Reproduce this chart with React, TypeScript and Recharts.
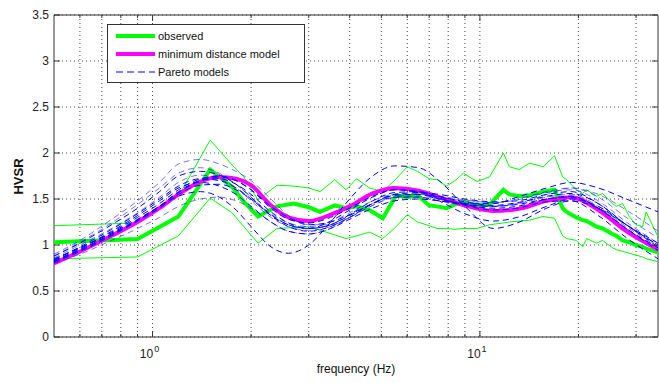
import { ComposedChart, Line, XAxis, YAxis, CartesianGrid, ReferenceArea, Legend } from 'recharts';

// plot box inside the 659x383 chart
const PLOT_LEFT = 54;
const PLOT_RIGHT = 658;
const PLOT_TOP = 15;
const PLOT_BOTTOM = 337;
const CHART_W = 659;
const CHART_H = 383;
const FONT = '"Liberation Sans", Arial, Helvetica, sans-serif';

// observed HVSR (mean and +/- one std) on its own frequency samples
const OBS_FREQ = [0.5, 0.9, 1.2, 1.5, 1.75, 1.9, 2.1, 2.4, 2.7, 3.0, 3.25, 3.6, 3.9, 4.2, 4.6, 5.05, 5.55, 6.0, 6.45, 7.0, 7.4, 7.9, 8.4, 8.9, 9.8, 10.7, 11.8, 12.3, 13.2, 14.2, 15.6, 16.9, 17.9, 18.4, 19.7, 20.6, 21.2, 22.7, 23.7, 25.4, 26.1, 27.3, 28.6, 30.0, 31.4, 32.2, 35];
const OBS_MEAN = [1.03, 1.065, 1.31, 1.82, 1.63, 1.47, 1.31, 1.42, 1.45, 1.41, 1.36, 1.43, 1.40, 1.42, 1.38, 1.29, 1.54, 1.52, 1.54, 1.43, 1.42, 1.40, 1.44, 1.47, 1.43, 1.44, 1.60, 1.55, 1.53, 1.54, 1.58, 1.60, 1.40, 1.36, 1.30, 1.27, 1.26, 1.20, 1.18, 1.12, 1.10, 1.05, 1.03, 1.00, 0.98, 0.96, 0.92];
const OBS_HI = [1.21, 1.24, 1.53, 2.14, 1.87, 1.74, 1.49, 1.65, 1.64, 1.62, 1.58, 1.71, 1.60, 1.72, 1.62, 1.58, 1.72, 1.85, 1.80, 1.72, 1.71, 1.64, 1.70, 1.78, 1.69, 1.74, 2.00, 1.85, 1.82, 1.89, 1.85, 1.97, 1.74, 1.71, 1.60, 1.56, 1.60, 1.53, 1.56, 1.45, 1.42, 1.45, 1.31, 1.22, 1.20, 1.36, 1.09];
const OBS_LO = [0.85, 0.87, 1.10, 1.51, 1.35, 1.20, 1.02, 1.18, 1.19, 1.20, 1.16, 1.11, 1.07, 1.10, 1.14, 1.07, 1.20, 1.33, 1.25, 1.21, 1.18, 1.18, 1.17, 1.18, 1.18, 1.22, 1.24, 1.25, 1.26, 1.27, 1.31, 1.29, 1.10, 1.07, 1.05, 0.98, 1.07, 1.02, 1.05, 0.97, 0.95, 0.93, 0.91, 0.89, 0.87, 0.85, 0.82];

// forward-model curves share one frequency grid
const MODEL_FREQ = [0.5, 0.6, 0.75, 0.9, 1.05, 1.2, 1.4, 1.6, 1.8, 2.0, 2.3, 2.6, 3.0, 3.5, 4.0, 4.7, 5.5, 6.5, 7.5, 9, 11, 13, 16, 19, 23, 28, 35];
const BEST_MODEL = [0.80, 0.93, 1.10, 1.25, 1.40, 1.55, 1.69, 1.74, 1.72, 1.65, 1.43, 1.30, 1.26, 1.33, 1.42, 1.56, 1.62, 1.59, 1.52, 1.43, 1.37, 1.39, 1.48, 1.52, 1.38, 1.15, 0.95];

const PARETO_01 = [0.82, 0.95, 1.12, 1.27, 1.42, 1.57, 1.70, 1.74, 1.70, 1.60, 1.40, 1.28, 1.24, 1.30, 1.40, 1.53, 1.60, 1.58, 1.51, 1.44, 1.40, 1.42, 1.50, 1.53, 1.40, 1.18, 0.97];
const PARETO_02 = [0.90, 1.05, 1.28, 1.48, 1.68, 1.88, 1.93, 1.88, 1.80, 1.70, 1.50, 1.32, 1.22, 1.22, 1.30, 1.43, 1.52, 1.53, 1.50, 1.45, 1.42, 1.45, 1.55, 1.62, 1.55, 1.38, 1.15];
const PARETO_03 = [0.85, 0.97, 1.13, 1.28, 1.42, 1.53, 1.58, 1.52, 1.38, 1.20, 0.98, 0.91, 1.00, 1.25, 1.50, 1.75, 1.86, 1.84, 1.70, 1.42, 1.18, 1.24, 1.40, 1.48, 1.40, 1.22, 1.02];
const PARETO_04 = [0.84, 0.97, 1.14, 1.30, 1.45, 1.60, 1.72, 1.75, 1.70, 1.60, 1.42, 1.30, 1.22, 1.25, 1.33, 1.45, 1.52, 1.52, 1.48, 1.45, 1.45, 1.52, 1.62, 1.68, 1.62, 1.50, 1.36];
const PARETO_05 = [0.80, 0.90, 1.05, 1.18, 1.30, 1.42, 1.50, 1.52, 1.48, 1.40, 1.25, 1.15, 1.12, 1.18, 1.30, 1.45, 1.55, 1.56, 1.52, 1.46, 1.42, 1.45, 1.52, 1.55, 1.42, 1.20, 0.98];
const PARETO_06 = [0.88, 1.02, 1.22, 1.40, 1.58, 1.75, 1.80, 1.76, 1.66, 1.52, 1.32, 1.20, 1.15, 1.20, 1.30, 1.45, 1.55, 1.57, 1.55, 1.50, 1.47, 1.48, 1.55, 1.58, 1.45, 1.22, 1.00];
const PARETO_07 = [0.83, 0.96, 1.15, 1.32, 1.48, 1.62, 1.68, 1.64, 1.55, 1.42, 1.25, 1.15, 1.12, 1.18, 1.28, 1.40, 1.48, 1.50, 1.48, 1.44, 1.42, 1.44, 1.50, 1.52, 1.40, 1.18, 0.94];
const PARETO_08 = [0.86, 1.00, 1.18, 1.35, 1.52, 1.68, 1.76, 1.72, 1.62, 1.48, 1.30, 1.20, 1.16, 1.20, 1.30, 1.43, 1.52, 1.55, 1.53, 1.49, 1.46, 1.49, 1.57, 1.60, 1.48, 1.25, 1.02];
const PARETO_09 = [0.81, 0.93, 1.10, 1.26, 1.40, 1.55, 1.65, 1.66, 1.60, 1.50, 1.32, 1.22, 1.18, 1.22, 1.32, 1.45, 1.54, 1.55, 1.50, 1.43, 1.38, 1.40, 1.47, 1.48, 1.32, 1.08, 0.85];
const PARETO_10 = [0.84, 0.98, 1.17, 1.34, 1.50, 1.64, 1.72, 1.70, 1.62, 1.50, 1.33, 1.22, 1.18, 1.26, 1.38, 1.52, 1.60, 1.58, 1.48, 1.34, 1.26, 1.30, 1.42, 1.50, 1.42, 1.22, 1.00];
const PARETO_11 = [0.88, 1.03, 1.24, 1.44, 1.62, 1.78, 1.84, 1.78, 1.66, 1.52, 1.34, 1.24, 1.20, 1.25, 1.35, 1.48, 1.55, 1.55, 1.52, 1.48, 1.46, 1.50, 1.58, 1.62, 1.52, 1.30, 1.08];
const PARETO_12 = [0.82, 0.94, 1.11, 1.27, 1.42, 1.58, 1.70, 1.72, 1.66, 1.55, 1.36, 1.24, 1.18, 1.22, 1.33, 1.48, 1.57, 1.58, 1.53, 1.47, 1.43, 1.46, 1.53, 1.56, 1.45, 1.22, 0.98];
const PARETO = [PARETO_01, PARETO_02, PARETO_03, PARETO_04, PARETO_05, PARETO_06, PARETO_07, PARETO_08, PARETO_09, PARETO_10, PARETO_11, PARETO_12];

const X_TICKS = [0.6, 0.7, 0.8, 0.9, 1, 2, 3, 4, 5, 6, 7, 8, 9, 10, 20, 30];
const Y_TICKS = [0, 0.5, 1, 1.5, 2, 2.5, 3, 3.5];

const obsRows = OBS_FREQ.map((f, i) => ({ f, mean: OBS_MEAN[i], hi: OBS_HI[i], lo: OBS_LO[i] }));
const modelRows = MODEL_FREQ.map((f, i) => {
    const row: Record<string, number> = { f, best: BEST_MODEL[i] };
    PARETO.forEach((p, k) => { row[`p${k}`] = p[i]; });
    return row;
});

const FreqTick = (props: any) => {
    const { x, payload } = props;
    const v = payload.value;
    const major = v === 1 || v === 10;
    const len = major ? 6 : 3;
    return (
        <g>
            <line x1={x} x2={x} y1={PLOT_BOTTOM} y2={PLOT_BOTTOM - len} stroke="#333" />
            <line x1={x} x2={x} y1={PLOT_TOP} y2={PLOT_TOP + len} stroke="#333" />
            {major && (
                <text x={x - 3} y={PLOT_BOTTOM + 21} textAnchor="middle" fill="#222" fontSize={12} fontFamily={FONT}>
                    10
                    <tspan dx={1} dy={-6} fontSize={9}>{Math.round(Math.log10(v))}</tspan>
                </text>
            )}
        </g>
    );
};

const HvsrTick = (props: any) => {
    const { y, payload } = props;
    return (
        <g>
            <line x1={PLOT_LEFT} x2={PLOT_LEFT + 6} y1={y} y2={y} stroke="#333" />
            <line x1={PLOT_RIGHT - 6} x2={PLOT_RIGHT} y1={y} y2={y} stroke="#333" />
            <text x={PLOT_LEFT - 5} y={y + 4} textAnchor="end" fill="#222" fontSize={12} fontFamily={FONT}>
                {payload.value}
            </text>
        </g>
    );
};

const LegendBox = () => (
    <div
        style={{
            width: 196,
            height: 57,
            border: '1px solid #333',
            background: '#fff',
            fontFamily: FONT,
            fontSize: 11,
            color: '#111',
            position: 'relative',
        }}
    >
        <svg width={196} height={57} style={{ position: 'absolute', left: 0, top: 0 }}>
            <line x1={8} x2={47} y1={11} y2={11} stroke="#00FF00" strokeWidth={4} />
            <line x1={8} x2={47} y1={29} y2={29} stroke="#FF00FF" strokeWidth={4} />
            <line x1={8} x2={47} y1={47} y2={47} stroke="#0000FF" strokeWidth={1} strokeDasharray="7 4" />
            <text x={50} y={15} fontSize={11} fontFamily={FONT} fill="#111">observed</text>
            <text x={50} y={33} fontSize={11} fontFamily={FONT} fill="#111">minimum distance model</text>
            <text x={50} y={51} fontSize={11} fontFamily={FONT} fill="#111">Pareto models</text>
        </svg>
    </div>
);

export default function App() {
    return (
        <div style={{ position: 'absolute', left: 0, top: 0, width: CHART_W, height: CHART_H, background: '#fff' }}>
            <ComposedChart
                width={CHART_W}
                height={CHART_H}
                margin={{ top: PLOT_TOP, right: CHART_W - PLOT_RIGHT, left: 0, bottom: 0 }}
            >
                <CartesianGrid
                    stroke="#444"
                    strokeDasharray="1 3"
                    horizontalValues={Y_TICKS}
                    verticalValues={X_TICKS}
                />
                <XAxis
                    dataKey="f"
                    type="number"
                    scale="log"
                    domain={[0.5, 35]}
                    allowDataOverflow
                    ticks={X_TICKS}
                    interval={0}
                    tick={<FreqTick />}
                    tickLine={false}
                    axisLine={false}
                    height={CHART_H - PLOT_BOTTOM}
                />
                <YAxis
                    type="number"
                    domain={[0, 3.5]}
                    ticks={Y_TICKS}
                    interval={0}
                    tick={<HvsrTick />}
                    tickLine={false}
                    axisLine={false}
                    width={PLOT_LEFT}
                />
                <ReferenceArea x1={0.5} x2={35} y1={0} y2={3.5} fill="none" stroke="#333" strokeWidth={1} />

                <Line data={obsRows} dataKey="hi" type="linear" stroke="#00FF00" strokeWidth={1} dot={false} activeDot={false} isAnimationActive={false} />
                <Line data={obsRows} dataKey="lo" type="linear" stroke="#00FF00" strokeWidth={1} dot={false} activeDot={false} isAnimationActive={false} />
                <Line data={obsRows} dataKey="mean" type="linear" stroke="#00FF00" strokeWidth={4} dot={false} activeDot={false} isAnimationActive={false} />
                <Line data={modelRows} dataKey="best" type="monotone" stroke="#FF00FF" strokeWidth={4} dot={false} activeDot={false} isAnimationActive={false} />
                {PARETO.map((_, k) => (
                    <Line
                        key={`pareto-${k}`}
                        data={modelRows}
                        dataKey={`p${k}`}
                        type="monotone"
                        stroke="#0000FF"
                        strokeOpacity={k % 3 === 1 ? 0.55 : 1}
                        strokeWidth={1}
                        strokeDasharray="6 4"
                        dot={false}
                        activeDot={false}
                        isAnimationActive={false}
                    />
                ))}

                <Legend
                    layout="horizontal"
                    verticalAlign="middle"
                    align="center"
                    wrapperStyle={{ left: 107, top: 24, width: 198, height: 59 }}
                    content={() => <LegendBox />}
                />
            </ComposedChart>
            <div
                style={{
                    position: 'absolute',
                    left: 8,
                    top: (PLOT_TOP + PLOT_BOTTOM) / 2 - 20,
                    width: 20,
                    height: 40,
                    display: 'flex',
                    alignItems: 'center',
                    justifyContent: 'center',
                }}
            >
                <span style={{ transform: 'rotate(-90deg)', fontFamily: FONT, fontWeight: 'bold', fontSize: 13, color: '#111', whiteSpace: 'nowrap' }}>
                    HVSR
                </span>
            </div>
            <div
                style={{
                    position: 'absolute',
                    left: PLOT_LEFT,
                    width: PLOT_RIGHT - PLOT_LEFT,
                    top: 362,
                    textAlign: 'center',
                    fontFamily: FONT,
                    fontSize: 12,
                    color: '#111',
                }}
            >
                frequency (Hz)
            </div>
        </div>
    );
}
